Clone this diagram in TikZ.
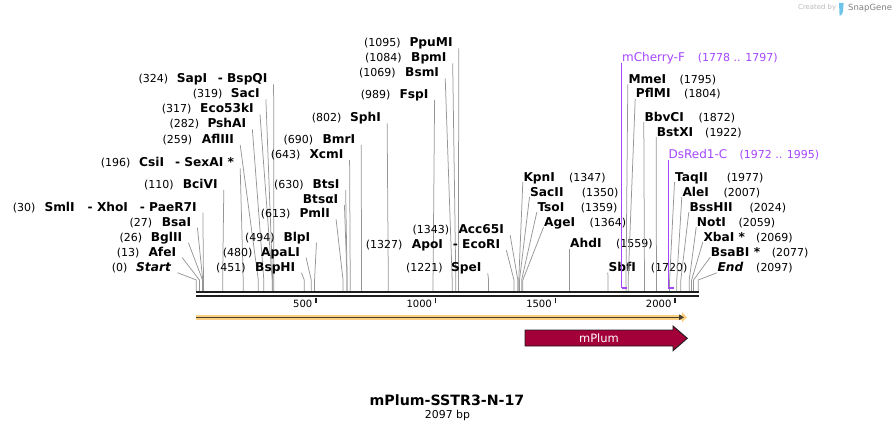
\documentclass[tikz,border=0pt]{standalone}
\usepackage{fontspec}
\setmainfont{DejaVu Sans}
\usetikzlibrary{arrows.meta}
\usetikzlibrary{calc}
\definecolor{leadgray}{RGB}{150,150,150}
\definecolor{mapline}{RGB}{30,30,30}
\definecolor{primcol}{RGB}{165,70,255}
\definecolor{plumred}{RGB}{163,0,58}
\definecolor{bandorange}{RGB}{251,208,128}
\definecolor{banddark}{RGB}{72,62,45}
\definecolor{logoblue}{RGB}{110,195,235}

\begin{document}
\begin{tikzpicture}[x=1pt,y=-1pt,
        nm/.style={anchor=base west,inner sep=0pt,font=\fontsize{12.2}{14}\selectfont\bfseries},
        num/.style={anchor=base west,inner sep=0pt,font=\fontsize{11}{13}\selectfont},
        lead/.style={draw=leadgray,line width=0.75pt},
        primtxt/.style={anchor=base west,inner sep=0pt,font=\fontsize{12}{14}\selectfont,text=primcol}]
        \useasboundingbox (0,0) rectangle (896,430);

        \foreach \i/\nme/\nx/\nr/\rx/\y/\bp in {
            1/{\textit{Start}}/136/(0)/111.7/266.7/0,
            2/AfeI/148.3/(13)/116.7/251.7/13,
            3/BglII/150.7/(26)/119.3/236.7/26,
            4/BsaI/161.7/(27)/129.3/221.7/27,
            5/{SmlI\hspace{13pt}- XhoI\hspace{11.8pt}- PaeR7I}/44.3/(30)/12.7/206.7/30,
            6/BciVI/182.7/(110)/144/184/110,
            7/{CsiI\hspace{11pt}- SexAI *}/139/(196)/100.7/162.3/196,
            8/AflIII/201.7/(259)/162.3/139/259,
            9/PshAI/207.3/(282)/169.3/123.3/282,
            10/Eco53kI/200/(317)/161.7/108.3/317,
            11/SacI/230.7/(319)/192.7/93.3/319,
            12/{SapI\hspace{10.7pt}- BspQI}/176.7/(324)/138.3/78.3/324,
            13/BspHI/255/(451)/216/266.7/451,
            14/ApaLI/261/(480)/222.7/251.7/480,
            15/BlpI/283.3/(494)/245/236.7/494,
            16/PmlI/299.3/(613)/260.7/213.3/613,
            17/BtsαI/302.7/{}/300/199/630,
            18/BtsI/312.3/(630)/274/184/630,
            19/XcmI/309.3/(643)/270.7/154/643,
            20/BmrI/322.3/(690)/283.3/139/690,
            21/SphI/350/(802)/311.7/117.3/802,
            22/FspI/399.3/(989)/360.7/94/989,
            23/BsmI/405/(1069)/359/72.3/1069,
            24/BpmI/411/(1084)/365/57.3/1084,
            25/PpuMI/409.3/(1095)/364/42.3/1095,
            26/SpeI/451/(1221)/406/267.3/1221,
            27/{ApoI\hspace{9.9pt}- EcoRI}/411.7/(1327)/365.7/244/1327,
            28/Acc65I/458.3/(1343)/412.3/229/1343}{
            \pgfmathsetmacro\sx{196.3+0.2394*\bp}
            \pgfmathsetmacro\by{\y+4.4}
            \node[num] (nl\i) at (\rx,\by) {\nr};
            \node[nm] (l\i) at (\nx,\by) {\nme};
            \coordinate (lk\i) at (\sx,280);
            \coordinate (lb\i) at (\sx,291);
            \draw[lead] (l\i.base east) ++(6,1.6) -- (lk\i) -- (lb\i);
        }

        \foreach \i/\nme/\nx/\nr/\rx/\y/\bp in {
            1/KpnI/523.3/(1347)/569/176.7/1347,
            2/SacII/530/(1350)/581.7/191.7/1350,
            3/TsoI/537.3/(1359)/580.7/206.7/1359,
            4/AgeI/544/(1364)/589.3/221.7/1364,
            5/AhdI/570/(1559)/616/243.3/1559,
            6/SbfI/608.3/(1720)/650.7/267/1720,
            7/MmeI/628.3/(1795)/679.3/79/1795,
            8/PflMI/635.7/(1804)/684/93.3/1804,
            9/BbvCI/644.3/(1872)/698.3/116.7/1872,
            10/BstXI/656.7/(1922)/705/131.7/1922,
            11/TaqII/675/(1977)/726.7/176.7/1977,
            12/AleI/682.3/(2007)/723.3/191.7/2007,
            13/BssHII/689.3/(2024)/749.3/206.7/2024,
            14/NotI/696.7/(2059)/738.3/221.7/2059,
            15/{XbaI *}/703.3/(2069)/756/236.7/2069,
            16/{BsaBI *}/710.7/(2077)/771.7/251.7/2077,
            17/{\textit{End}}/717.3/(2097)/756/267.3/2097}{
            \pgfmathsetmacro\sx{196.3+0.2394*\bp}
            \pgfmathsetmacro\by{\y+4.4}
            \node[nm] (r\i) at (\nx,\by) {\nme};
            \node[num] (nr\i) at (\rx,\by) {\nr};
            \coordinate (rk\i) at (\sx,280);
            \coordinate (rb\i) at (\sx,291);
            \draw[lead] (r\i.base west) ++(-0.5,1.1) -- (rk\i) -- (rb\i);
        }

        \node[primtxt] (mch) at (621.9,61.1) {mCherry-F};
        \node[num,text=primcol] (mchpos) at (697.7,61.1) {(1778 .. 1797)};
        \coordinate (mch1) at (621.9,288);
        \coordinate (mch2) at (626.5,288);
        \draw[primcol,line width=1.1pt] (mch.base west) ++(0,1.6) -- (mch1);
        \draw[primcol,line width=2pt] (mch1) -- (mch2);

        \node[primtxt] (dsr) at (668.4,158.4) {DsRed1-C};
        \node[num,text=primcol] (dsrpos) at (739.3,158.4) {(1972 .. 1995)};
        \coordinate (dsr1) at (668.4,288);
        \coordinate (dsr2) at (673.9,288);
        \draw[primcol,line width=1.1pt] (dsr.base west) ++(0,1.6) -- (dsr1);
        \draw[primcol,line width=2pt] (dsr1) -- (dsr2);

        \coordinate (barA) at (196.3,292);
        \coordinate (barB) at (699.3,292);
        \coordinate (barC) at (196.3,295.8);
        \coordinate (barD) at (699.3,295.8);
        \draw[mapline,line width=2.3pt] (barA) -- (barB);
        \draw[mapline,line width=2pt] (barC) -- (barD);

        \foreach \t in {500,1000,1500,2000}{
            \pgfmathsetmacro\tx{196.3+0.2394*\t}
            \coordinate (t\t) at (\tx,297.5);
            \draw[mapline,line width=1.4pt] (t\t) -- ++(0,5);
            \node[anchor=base east,inner sep=0pt,font=\fontsize{10}{12}\selectfont] (tl\t) at (\tx-3.5,307.3) {\t};
        }

        \coordinate (fa) at (196.3,317.3);
        \coordinate (fb) at (687,317.3);
        \coordinate (fc) at (684,317.3);
        \draw[bandorange,line width=4.5pt,-{Triangle[length=5pt,width=10pt]}] (fa) -- (fb);
        \draw[banddark,line width=1.5pt,-{Triangle[length=5pt,width=5.5pt]}] (fa) -- (fc);

        \draw[fill=plumred,draw=mapline,line width=0.9pt] (525,330) -- (673,330) -- (673,326)
              -- (687.3,338.3) -- (673,350.7) -- (673,346) -- (525,346) -- cycle;
        \node[text=white,font=\fontsize{11.5}{13}\selectfont,inner sep=0pt] (plum) at (599,337.8) {mPlum};

        \node[anchor=base,inner sep=0pt,font=\fontsize{14.2}{16}\selectfont\bfseries] (title) at (447,405.2) {mPlum-SSTR3-N-17};
        \node[anchor=base,inner sep=0pt,font=\fontsize{10.9}{13}\selectfont] (size) at (447.5,418.3) {2097 bp};

        \node[anchor=base west,inner sep=0pt,font=\fontsize{6.9}{8}\selectfont,text=gray!55] (made) at (798,9.8) {Created by};
        \fill[logoblue] (839,3) -- (843.6,3) -- (843.2,9) .. controls (842.9,13.5) and (841.5,16) .. (839.6,16) -- cycle;
        \node[anchor=base west,inner sep=0pt,font=\fontsize{8.5}{10}\selectfont,text=gray] (sg) at (848,10.4) {SnapGene};
    \end{tikzpicture}
\end{document}
